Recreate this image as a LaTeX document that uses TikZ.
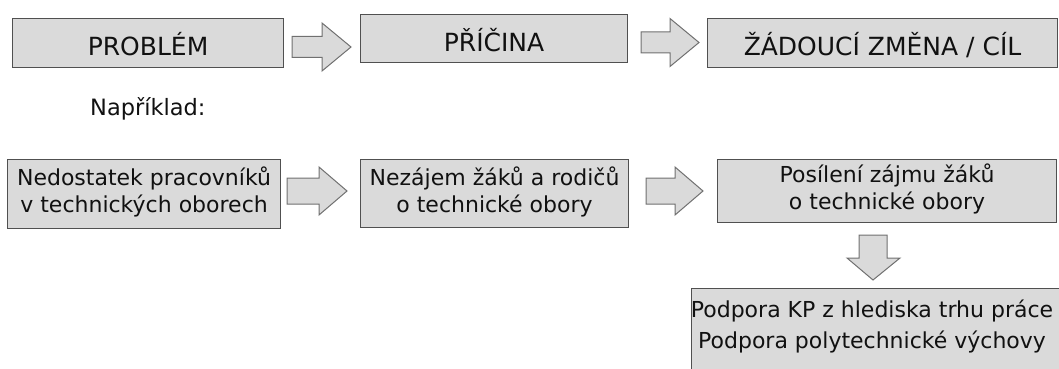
\documentclass[tikz,border=0pt]{standalone}
\usepackage{fontspec}
\setmainfont{DejaVu Sans}
\definecolor{boxfill}{RGB}{218,218,218}
\definecolor{boxline}{RGB}{80,80,80}
\definecolor{arrline}{RGB}{112,112,112}
\definecolor{txt}{RGB}{17,17,17}
\newcommand{\rblock}[6]{% x0 x1 yc shafthalf headhalf headlen
  \filldraw[blockarrow] (#1,#3-#4) -- (#2-#6,#3-#4) -- (#2-#6,#3-#5) -- (#2,#3)
    -- (#2-#6,#3+#5) -- (#2-#6,#3+#4) -- (#1,#3+#4) -- cycle;}
\begin{document}
\begin{tikzpicture}[x=1pt,y=-1pt,
  box/.style={draw=boxline, fill=boxfill, line width=1.1pt, inner sep=0pt, anchor=north west, text=txt, align=center},
  toprow/.style={box, font=\fontsize{25}{30}\selectfont, text height=25pt, text depth=0pt},
  lowrow/.style={box, font=\fontsize{22}{27}\selectfont},
  linetext/.style={anchor=base, inner sep=0pt, text=txt, font=\fontsize{22}{27}\selectfont},
  blockarrow/.style={draw=arrline, fill=boxfill, line width=1pt, line join=miter}]
\useasboundingbox (0,0) rectangle (1059,369);
% top row
\node[toprow, minimum width=271pt, minimum height=49pt] (p1) at (12,18) {PROBLÉM};
\node[toprow, minimum width=267pt, minimum height=48pt] (p2) at (360,14) {PŘÍČINA};
\node[toprow, minimum width=350pt, minimum height=49pt] (p3) at (707,18) {ŽÁDOUCÍ ZMĚNA / CÍL};
\rblock{292}{351}{47}{10.5}{24}{29}
\rblock{641}{699}{42.5}{10.5}{24}{29}
% example label
\node[anchor=base west, inner sep=0pt, text=txt, font=\fontsize{22.5}{27}\selectfont] (nap) at (90,115) {Například:};
% second row
\node[lowrow, minimum width=273pt, minimum height=69pt] (a) at (7,159) {\strut Nedostatek pracovníků\\\strut v technických oborech};
\node[lowrow, minimum width=268pt, minimum height=68pt] (b) at (360,159) {\strut Nezájem žáků a rodičů\\\strut o technické obory};
\node[lowrow, minimum width=339pt, minimum height=63pt] (c) at (717,159) {\strut Posílení zájmu žáků\\\strut o technické obory};
\rblock{287}{347}{191}{13}{24}{28}
\rblock{646}{703}{191}{13}{24}{28}
% down arrow
\filldraw[blockarrow] (859,235) -- (887,235) -- (887,258) -- (900,258) -- (873,280)
  -- (847,258) -- (859,258) -- cycle;
% bottom box
\node[box, minimum width=372pt, minimum height=95pt] (d) at (691,288) {};
\node[linetext] (d1) at (872,317) {Podpora KP z hlediska trhu práce};
\node[linetext] (d2) at (872,348) {Podpora polytechnické výchovy};
\end{tikzpicture}
\end{document}
